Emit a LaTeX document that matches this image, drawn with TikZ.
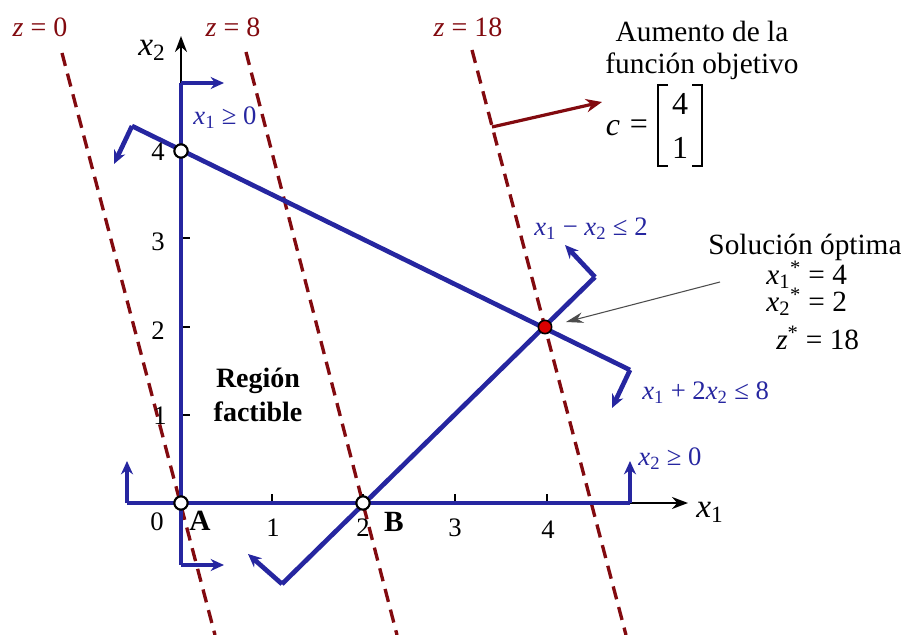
\documentclass[tikz,border=0pt]{standalone}
\usepackage{fontspec}
\setmainfont{Liberation Serif}
\usetikzlibrary{arrows.meta}
\definecolor{cblue}{RGB}{38,38,160}
\definecolor{cred}{RGB}{130,10,15}
\newcommand\vx[1]{\textit{x}\textsubscript{#1}}
\begin{document}
\begin{tikzpicture}[x=0.75pt,y=-0.75pt,
  lbl/.style={font=\fontsize{20}{22}\selectfont, inner sep=0pt},
  blbl/.style={font=\fontsize{20}{22}\selectfont, text=cblue, inner sep=0pt},
  zlbl/.style={font=\fontsize{21}{23}\selectfont, text=cred, inner sep=0pt},
  txt/.style={font=\fontsize{22}{24}\selectfont, inner sep=0pt, align=center},
  bline/.style={draw=cblue, line width=3.5pt},
  barrow/.style={draw=cblue, fill=cblue, line width=3.5pt, -{Stealth[length=10pt,width=9pt]}},
  axarrow/.style={draw=black, line width=1.6pt, -{Stealth[length=12pt,width=9pt]}},
  zline/.style={draw=cred, line width=2.5pt, dash pattern=on 10pt off 6pt},
  pt/.style={circle, draw=black, fill=white, line width=1.6pt, minimum size=10pt, inner sep=0pt},
  tick/.style={draw=black, line width=1.4pt}]
\useasboundingbox (0,0) rectangle (901,635);

% dashed objective lines
\coordinate (z0a) at (62,53);  \coordinate (z0b) at (215,635);
\coordinate (z8a) at (246,52); \coordinate (z8b) at (397,635);
\coordinate (z18a) at (472,50); \coordinate (z18b) at (626,635);
\draw[zline] (z0a) -- (z0b);
\draw[zline] (z8a) -- (z8b);
\draw[zline] (z18a) -- (z18b);
\node[zlbl] (lz0) at (40,27) {\textit{z} = 0};
\node[zlbl] (lz8) at (233,27) {\textit{z} = 8};
\node[zlbl] (lz18) at (468,27) {\textit{z} = 18};

% axes (black parts)
\coordinate (ytop) at (181,83);
\coordinate (ytip) at (181,36);
\coordinate (xr) at (630,503);
\coordinate (xtip) at (688,503);
\draw[axarrow] (ytop) -- (ytip);
\draw[axarrow] (xr) -- (xtip);
\node[font=\fontsize{25}{27}\selectfont\itshape, inner sep=0pt] (lx2) at (152,50) {x\textsubscript{\upshape 2}};
\node[font=\fontsize{25}{27}\selectfont\itshape, inner sep=0pt] (lx1) at (710,512) {x\textsubscript{\upshape 1}};

% ticks
\foreach \xx in {272,363,455,547} \draw[tick] (\xx,503) -- (\xx,494);
\foreach \yy in {415,327,238} \draw[tick] (181,\yy) -- (190,\yy);

% x1 >= 0 constraint (y-axis)
\coordinate (ybot) at (181,565);
\coordinate (ytopr) at (224,83);
\coordinate (ybotr) at (224,565);
\draw[bline] (ytop) -- (ybot);
\draw[barrow] (ytop) -- (ytopr);
\draw[barrow] (ybot) -- (ybotr);
\node[blbl] (lx1c) at (225,118) {\vx{1} ≥ 0};

% x2 >= 0 constraint (x-axis)
\coordinate (xl) at (127,503);
\coordinate (xlu) at (127,461);
\coordinate (xru) at (630,461);
\draw[bline] (xl) -- (xr);
\draw[barrow] (xl) -- (xlu);
\draw[barrow] (xr) -- (xru);
\node[blbl] (lx2c) at (670,459) {\vx{2} ≥ 0};

% x1 + 2x2 <= 8
\coordinate (c1a) at (132,126);
\coordinate (c1b) at (630,370);
\coordinate (c1aa) at (114,164);
\coordinate (c1ba) at (612,408);
\draw[bline] (c1a) -- (c1b);
\draw[barrow] (c1a) -- (c1aa);
\draw[barrow] (c1b) -- (c1ba);
\node[blbl, anchor=west] (lc1) at (642,393) {\vx{1} + 2\vx{2} ≤ 8};

% x1 - x2 <= 2
\coordinate (c2a) at (282,584);
\coordinate (c2b) at (595,277);
\coordinate (c2aa) at (248,554);
\coordinate (c2ba) at (565,245);
\draw[bline] (c2a) -- (c2b);
\draw[barrow] (c2a) -- (c2aa);
\draw[barrow] (c2b) -- (c2ba);
\node[blbl, anchor=west] (lc2) at (534,229) {\vx{1} − \vx{2} ≤ 2};

% points
\node[pt] (A) at (181,503) {};
\node[pt] (B) at (363,503) {};
\node[pt] (P4) at (181,151) {};
\node[circle, draw=black, fill=red!85!black, line width=1.2pt, minimum size=10pt, inner sep=0pt] (opt) at (545,327) {};

% axis labels
\node[lbl] (l0) at (157,522) {0};
\node[lbl] (l1) at (273,528) {1};
\node[lbl] (l2) at (363,528) {2};
\node[lbl] (l3) at (455,528) {3};
\node[lbl] (l4x) at (548,530) {4};
\node[lbl] (l4y) at (158,152) {4};
\node[lbl] (l3y) at (158,242) {3};
\node[lbl] (l2y) at (158,331) {2};
\node[lbl] (l1y) at (160,416) {1};
\node[font=\fontsize{22}{24}\selectfont\bfseries, inner sep=0pt] (lA) at (200,521) {A};
\node[font=\fontsize{22}{24}\selectfont\bfseries, inner sep=0pt] (lB) at (394,522) {B};

% region label
\node[font=\fontsize{21}{26}\selectfont\bfseries, align=center, inner sep=0pt] (reg) at (258,395) {Región\\factible};

% objective direction
\coordinate (cst) at (492,127);
\coordinate (cen) at (602,102);
\draw[draw=cred, fill=cred, line width=2.4pt, -{Stealth[length=12pt,width=10pt]}] (cst) -- (cen);
\node[txt] (aum) at (702,50) {Aumento de la\\función objetivo};
\node[font=\fontsize{24}{26}\selectfont\itshape, inner sep=0pt] (cc) at (613,128) {c};
\node[font=\fontsize{24}{26}\selectfont, inner sep=0pt] (ceq) at (639,127) {=};
\node[font=\fontsize{24}{26}\selectfont, inner sep=0pt] (cv4) at (680,104) {4};
\node[font=\fontsize{24}{26}\selectfont, inner sep=0pt] (cv1) at (680,148) {1};
\draw[line width=1.5pt] (668,85) -- (658,85) -- (658,166) -- (668,166);
\draw[line width=1.5pt] (692,85) -- (702,85) -- (702,166) -- (692,166);

% optimal solution
\node[txt] (sol) at (805,247) {Solución óptima};
\node[txt, anchor=west] (s1) at (766,275) {\vx{1}\textsuperscript{*} = 4};
\node[txt, anchor=west] (s2) at (766,302) {\vx{2}\textsuperscript{*} = 2};
\node[txt, anchor=west] (s3) at (776,338) {\textit{z}\textsuperscript{*} = 18};
\coordinate (sarr) at (720,282);
\coordinate (sarrtip) at (566,322);
\draw[draw=black!70, line width=0.8pt, -{Stealth[length=13pt,width=8pt]}] (sarr) -- (sarrtip);
\end{tikzpicture}
\end{document}
